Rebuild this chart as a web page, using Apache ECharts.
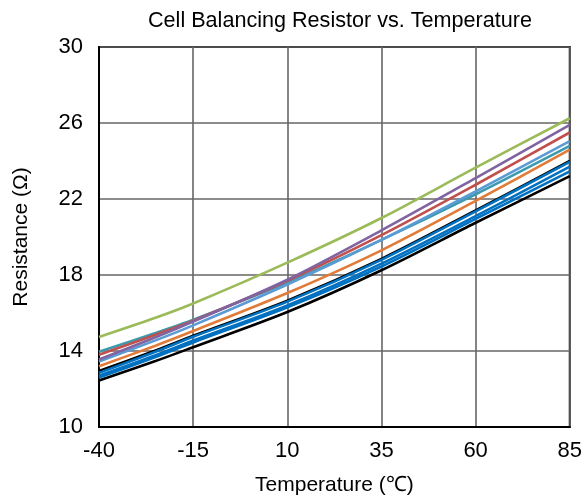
<!DOCTYPE html>
<html>
<head>
<meta charset="utf-8">
<script src="https://cdn.jsdelivr.net/npm/echarts@6/dist/echarts.min.js"></script>
<style>
  html, body { margin: 0; padding: 0; background: #fff; }
  #chart { width: 585px; height: 502px; }
</style>
</head>
<body>
<div id="chart"></div>
<script>
// Temperatures (°C) at which the resistance curves are sampled
const temps = [-40, -25, -15, 10, 35, 60, 85];

// Resistance (Ω) of each device curve
const curveGreen   = [14.74, 15.75, 16.5, 18.65, 21.0, 23.65, 26.25];
const curvePurple  = [13.55, 14.72, 15.55, 17.75, 20.35, 23.1, 25.9];
const curveRed     = [13.8, 14.86, 15.6, 17.7, 20.1, 22.75, 25.5];
const curveSteel   = [13.45, 14.56, 15.35, 17.5, 19.85, 22.4, 25.05];
const curveTeal    = [13.96, 14.95, 15.65, 17.6, 19.85, 22.25, 24.8];
const curveOrange  = [13.2, 14.28, 15.05, 17.05, 19.3, 21.9, 24.6];
const curveBlackHi = [12.95, 14.03, 14.8, 16.65, 18.85, 21.4, 24.0];
const curveBlue1   = [12.85, 13.96, 14.75, 16.6, 18.8, 21.35, 23.95];
const curveBlue2   = [12.7, 13.78, 14.55, 16.4, 18.6, 21.1, 23.7];
const curveBlue3   = [12.6, 13.68, 14.45, 16.3, 18.45, 20.95, 23.45];
const curveBlack   = [12.45, 13.47, 14.2, 16.05, 18.25, 20.75, 23.2];

// Axis tick values
const xTicks = [-40, -15, 10, 35, 60, 85];
const yTicks = [10, 14, 18, 22, 26, 30];

function pairs(ys) {
  return temps.map((t, i) => [t, ys[i]]);
}

const curves = [
  { name: 'blackHi', data: curveBlackHi, color: '#000000' },
  { name: 'green',   data: curveGreen,   color: '#9BBB59' },
  { name: 'teal',    data: curveTeal,    color: '#3C9AAE' },
  { name: 'steel',   data: curveSteel,   color: '#5B9BD5' },
  { name: 'red',     data: curveRed,     color: '#C0504D' },
  { name: 'purple',  data: curvePurple,  color: '#8064A2' },
  { name: 'orange',  data: curveOrange,  color: '#E07B39' },
  { name: 'black',   data: curveBlack,   color: '#000000' },
  { name: 'blue3',   data: curveBlue3,   color: '#0070C0' },
  { name: 'blue2',   data: curveBlue2,   color: '#0070C0' },
  { name: 'blue1',   data: curveBlue1,   color: '#0070C0' }
];

const font = '"Liberation Sans", Arial, sans-serif';

const chart = echarts.init(document.getElementById('chart'), null, { renderer: 'canvas' });

chart.setOption({
  animation: false,
  backgroundColor: '#ffffff',
  title: {
    text: 'Cell Balancing Resistor vs. Temperature',
    left: 335, top: 5, textAlign: 'center',
    textStyle: { fontFamily: font, fontSize: 21.6, fontWeight: 'normal', color: '#000' }
  },
  grid: {
    left: 99, right: 13, top: 47, bottom: 75,
    show: true, borderColor: '#000', borderWidth: 2, backgroundColor: 'transparent'
  },
  xAxis: {
    type: 'value', min: -40, max: 85,
    name: 'Temperature (\u2103)', nameLocation: 'middle', nameGap: 48,
    nameTextStyle: { fontFamily: font, fontSize: 21, color: '#000' },
    axisLine: { show: true, onZero: false, lineStyle: { color: '#000', width: 2 } },
    axisTick: { show: false, customValues: xTicks },
    axisLabel: { customValues: xTicks, fontFamily: font, fontSize: 22, color: '#000', margin: 13 },
    splitLine: { show: true, lineStyle: { color: '#666666', width: 1.6 } }
  },
  yAxis: {
    type: 'value', min: 10, max: 30,
    name: 'Resistance (\u03A9)', nameLocation: 'middle', nameGap: 67, nameRotate: 90,
    nameTextStyle: { fontFamily: font, fontSize: 21, color: '#000' },
    axisLine: { show: true, onZero: false, lineStyle: { color: '#000', width: 2 } },
    axisTick: { show: false, customValues: yTicks },
    axisLabel: { customValues: yTicks, fontFamily: font, fontSize: 22, color: '#000', margin: 16 },
    splitLine: { show: true, lineStyle: { color: '#666666', width: 1.6 } }
  },
  series: curves.map(c => ({
    name: c.name,
    type: 'line',
    data: pairs(c.data),
    smooth: 0.3,
    showSymbol: false,
    symbol: 'none',
    lineStyle: { color: c.color, width: 2.6 },
    itemStyle: { color: c.color },
    z: 3
  }))
});
</script>
</body>
</html>
